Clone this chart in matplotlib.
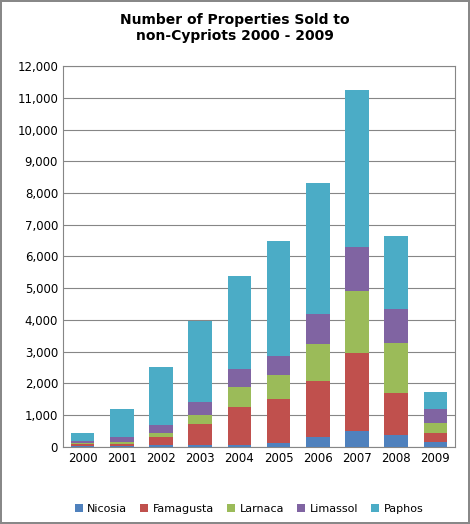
import numpy as np
import matplotlib
matplotlib.use("Agg")
import matplotlib.pyplot as plt
from matplotlib.ticker import FuncFormatter

years = ['2000', '2001', '2002', '2003', '2004', '2005', '2006', '2007', '2008', '2009']
regions = ['Nicosia', 'Famagusta', 'Larnaca', 'Limassol', 'Paphos']
nicosia = [20, 20, 50, 50, 60, 120, 320, 500, 380, 170]
famagusta = [60, 80, 250, 680, 1200, 1390, 1760, 2460, 1320, 270]
larnaca = [30, 60, 130, 270, 630, 760, 1170, 1960, 1580, 320]
limassol = [80, 150, 270, 420, 570, 600, 940, 1380, 1070, 430]
paphos = [260, 890, 1830, 2560, 2940, 3610, 4140, 4960, 2290, 550]
colors = ['#4F81BD', '#C0504D', '#9BBB59', '#8064A2', '#4BACC6']

fig = plt.figure(figsize=(4.70, 5.24), dpi=100)
fig.patch.set_edgecolor('#888888')
fig.patch.set_linewidth(1.5)
ax = fig.add_axes([0.134, 0.147, 0.834, 0.727])

x = np.arange(len(years))
bottom = np.zeros(len(years))
for name, vals, c in zip(regions, [nicosia, famagusta, larnaca, limassol, paphos], colors):
    ax.bar(x, vals, 0.6, bottom=bottom, color=c, label=name, zorder=3)
    bottom += np.array(vals)

ax.set_ylim(0, 12000)
ax.set_yticks(range(0, 12001, 1000))
ax.yaxis.set_major_formatter(FuncFormatter(lambda v, p: f'{int(v):,}'))
ax.set_xlim(-0.5, len(years) - 0.5)
ax.set_xticks(x)
ax.set_xticklabels(years)
ax.grid(axis='y', color='#868686', linewidth=0.8, zorder=0)
ax.tick_params(labelsize=8.5, length=0)
for s in ax.spines.values():
    s.set_color('#868686')

fig.suptitle('Number of Properties Sold to\nnon-Cypriots 2000 - 2009', y=0.975,
             fontsize=10, fontweight='bold')
fig.legend(loc='lower center', ncol=5, frameon=False, fontsize=8,
           bbox_to_anchor=(0.53, 0.0), handlelength=0.7, handleheight=0.7,
           columnspacing=1.2, handletextpad=0.4)
fig.savefig('out.png', dpi=100, edgecolor=fig.get_edgecolor())
